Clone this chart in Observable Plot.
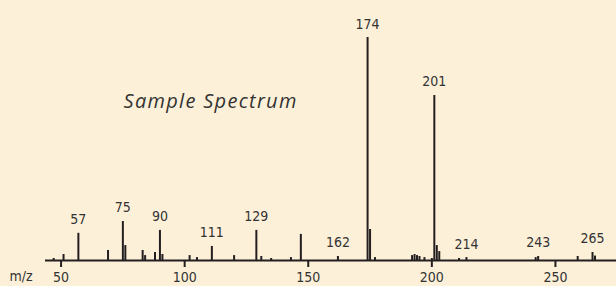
<!DOCTYPE html>
<html><head><meta charset="utf-8">
<script src="https://cdn.jsdelivr.net/npm/d3@7"></script>
<script src="https://cdn.jsdelivr.net/npm/@observablehq/plot@0.6"></script>
<style>html,body{margin:0;padding:0;background:#fdf0d9;overflow:hidden;}</style>
</head><body><div id="chart"></div>
<script>
// m/z values of peaks and their relative intensities (% of base peak)
const mz = [47, 51, 57, 69, 75, 76, 83, 84, 88, 90, 91, 102, 105, 111, 120, 129, 131, 135, 143, 147,
            162, 174, 175, 177, 192, 193, 194, 195, 197, 200, 201, 202, 203, 211, 214, 242, 243, 259, 265, 266];
const intensity = [0.9, 2.7, 12.2, 4.5, 17.5, 6.7, 4.5, 2.2, 3.6, 13.5, 2.7, 2.2, 1.3, 6.3, 2.2, 13.5, 1.8, 0.9, 1.3, 11.7,
                   1.8, 100, 13.9, 1.3, 2.2, 2.7, 2.2, 1.8, 1.3, 0.9, 74, 6.7, 4.0, 0.9, 1.3, 1.3, 1.8, 1.8, 3.6, 2.0];
const labeledPeaks = [57, 75, 90, 111, 129, 162, 174, 201, 214, 243, 265];
const xTicks = [50, 100, 150, 200, 250];
const title = "Sample Spectrum";
const axisLabel = "m/z";

const data = mz.map((m, i) => ({mz: m, intensity: intensity[i]}));
const labels = data.filter(d => labeledPeaks.includes(d.mz));

const ink = "#231f20";
const textColor = "#333";
const numFont = "'Liberation Sans Narrow', 'DejaVu Sans Condensed', Roboto, sans-serif";

const chart = Plot.plot({
  width: 616, height: 286,
  marginLeft: 45, marginRight: 0, marginTop: 37, marginBottom: 26,
  style: {background: "#fdf0d9", color: textColor, fontFamily: numFont, fontSize: "14px", overflow: "visible"},
  x: {domain: [43.7, 274.7]},
  y: {domain: [0, 100], axis: null},
  marks: [
    Plot.ruleY([0], {stroke: ink, strokeWidth: 2}),
    Plot.ruleX(data, {x: "mz", y1: 0, y2: "intensity", stroke: ink, strokeWidth: 2}),
    Plot.axisX({ticks: xTicks, tickSize: 7, tickPadding: 5, strokeWidth: 2, stroke: ink, label: null, fontSize: 14, fill: textColor}),
    Plot.text(labels, {x: "mz", y: "intensity", text: d => String(d.mz), dy: -9, lineAnchor: "bottom", fill: textColor, fontSize: 14}),
    Plot.text([title], {text: d => d, frameAnchor: "top-left", textAnchor: "start", lineAnchor: "middle", dx: 78, dy: 64,
      fontFamily: "'Open Sans', sans-serif", fontStyle: "italic", fontSize: 20, fill: textColor}),
    Plot.text([axisLabel], {text: d => d, frameAnchor: "bottom-left", textAnchor: "start", lineAnchor: "middle", dx: -36, dy: 16,
      fill: textColor, fontSize: 14})
  ]
});
d3.select(chart).selectAll("text").filter(function() { return this.textContent === title; })
  .style("letter-spacing", "1.3px");
document.getElementById("chart").appendChild(chart);
</script>
</body></html>
